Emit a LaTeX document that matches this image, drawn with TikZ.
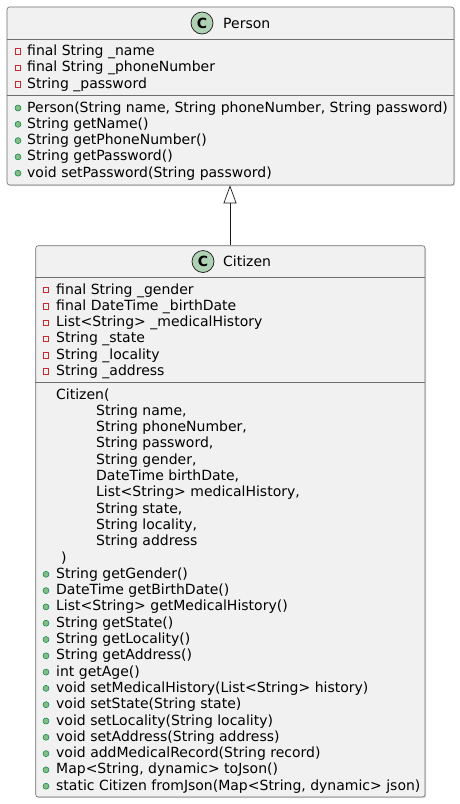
\documentclass[tikz,border=0pt]{standalone}
\usepackage{fontspec}
\setmainfont{DejaVu Sans}
\usetikzlibrary{arrows.meta,shadows}
\definecolor{boxfill}{HTML}{F1F1F1}
\definecolor{boxline}{HTML}{181818}
\definecolor{sepgray}{HTML}{6E6E6E}
\definecolor{iconfill}{HTML}{ADD1B2}
\definecolor{privred}{HTML}{C82930}
\definecolor{pubfill}{HTML}{84BE84}
\definecolor{publine}{HTML}{038048}
\tikzset{
  classbox/.style={draw=sepgray, fill=boxfill, rounded corners=2.5pt, line width=0.6pt, inner sep=0pt,
    general shadow={fill=black!15, shadow xshift=1.2pt, shadow yshift=-1.2pt}},
  sepline/.style={draw=sepgray, line width=0.6pt},
  member/.style={anchor=base west, inner sep=0pt, font=\fontsize{14}{16}\selectfont},
  priv/.style={draw=privred, line width=0.6pt, minimum size=5.5pt, inner sep=0pt},
  pub/.style={circle, draw=publine, fill=pubfill, minimum size=6pt, inner sep=0pt, line width=0.5pt},
  icon/.style={circle, draw=boxline, fill=iconfill, minimum size=22pt, inner sep=0pt, line width=0.7pt,
    font=\bfseries\fontsize{14}{16}\selectfont},
  inherit/.style={draw=boxline, line width=0.7pt, -{Triangle[open, length=18pt, width=13pt, fill=white]}}
}
\begin{document}
\begin{tikzpicture}[x=1pt,y=-1pt]
\useasboundingbox[fill=white] (0,0) rectangle (460,804);
% Person
\node[classbox, minimum width=447pt, minimum height=178pt] (person) at (230.5,96) {};
\draw[sepline] (person.west |- 0,39) -- (person.east |- 0,39);
\draw[sepline] (person.west |- 0,95) -- (person.east |- 0,95);
\node[icon] (picon) at (202,23) {C};
\node[member] (pname) at (223,28) {Person};
\foreach \t [count=\i from 0] in {final String \_name, final String \_phoneNumber, String \_password}{
  \node[priv] (pam\i) at (18,51.5+16.3*\i) {};
  \node[member] (pa\i) at (27,55.5+16.3*\i) {\t};
}
\foreach \t [count=\i from 0] in {{Person(String name, String phoneNumber, String password)}, String getName(), String getPhoneNumber(), String getPassword(), void setPassword(String password)}{
  \node[pub] (pmm\i) at (18,108+16.3*\i) {};
  \node[member] (pm\i) at (27,112+16.3*\i) {\t};
}
% Citizen
\node[classbox, minimum width=389.3pt, minimum height=551.3pt] (citizen) at (230.35,521.35) {};
\draw[sepline] (citizen.west |- 0,277.5) -- (citizen.east |- 0,277.5);
\draw[sepline] (citizen.west |- 0,382) -- (citizen.east |- 0,382);
\node[icon] (cicon) at (203,261.5) {C};
\node[member] (cname) at (223,266.5) {Citizen};
\foreach \t [count=\i from 0] in {final String \_gender, final DateTime \_birthDate, List<String> \_medicalHistory, String \_state, String \_locality, String \_address}{
  \node[priv] (cam\i) at (46,290+16.3*\i) {};
  \node[member] (ca\i) at (56,294+16.3*\i) {\t};
}
\node[member] (cctor) at (56,399) {Citizen(};
\foreach \t [count=\i from 1] in {{String name,}, {String phoneNumber,}, {String password,}, {String gender,}, {DateTime birthDate,}, {List<String> medicalHistory,}, {String state,}, {String locality,}, String address}{
  \node[member] (cp\i) at (96,399+16.3*\i) {\t};
}
\node[member] (cclose) at (61,399+16.3*10) {)};
\foreach \t [count=\i from 11] in {String getGender(), DateTime getBirthDate(), List<String> getMedicalHistory(), String getState(), String getLocality(), String getAddress(), int getAge(), void setMedicalHistory(List<String> history), void setState(String state), void setLocality(String locality), void setAddress(String address), void addMedicalRecord(String record), {Map<String, dynamic> toJson()}, {static Citizen fromJson(Map<String, dynamic> json)}}{
  \node[pub] (cmm\i) at (46,395+16.3*\i) {};
  \node[member] (cm\i) at (56,399+16.3*\i) {\t};
}
% inheritance
\draw[inherit] (citizen.north -| 230,0) -- (person.south -| 230,0);
\end{tikzpicture}
\end{document}
